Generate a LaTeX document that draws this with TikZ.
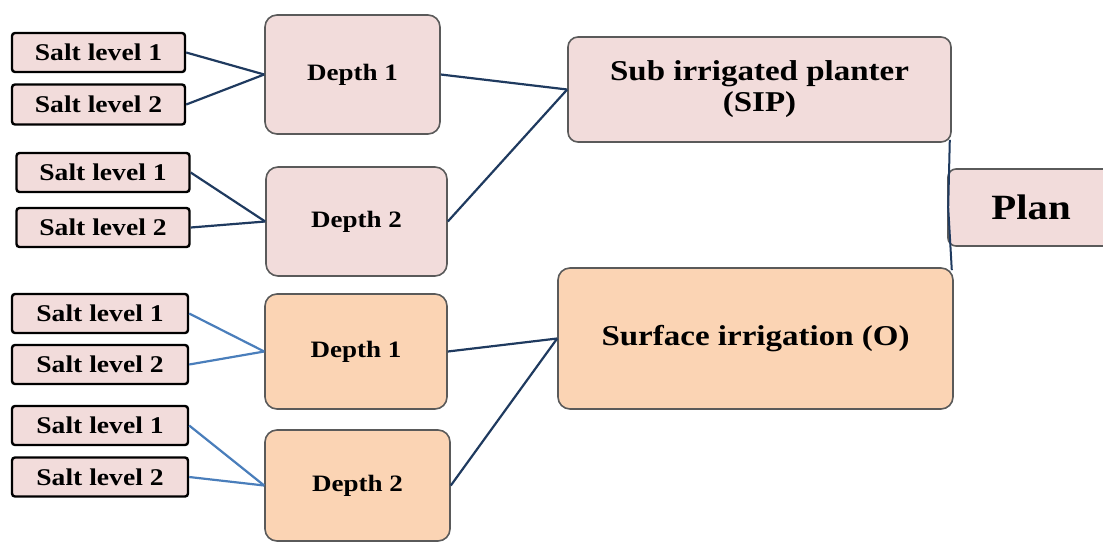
\documentclass[tikz,border=0pt]{standalone}
\usepackage{fontspec}
\setmainfont[FakeStretch=1.15]{Liberation Serif}
\definecolor{pinkfill}{HTML}{F2DCDB}
\definecolor{orangefill}{HTML}{FBD4B4}
\definecolor{darkline}{HTML}{1F3A5F}
\definecolor{lightline}{HTML}{4A7EBB}
\definecolor{boxedge}{HTML}{5A5A5A}
\begin{document}
\begin{tikzpicture}[x=1pt,y=-1pt,
  saltbox/.style={draw=black, line width=2.4pt, rounded corners=3pt, fill=pinkfill,
    inner sep=0pt, minimum width=173pt, minimum height=39pt,
    font=\fontsize{24}{26}\selectfont\bfseries},
  depthbox/.style={draw=boxedge, line width=1.6pt, rounded corners=12pt,
    inner sep=0pt, font=\fontsize{23.5}{26}\selectfont\bfseries},
  bigbox/.style={draw=boxedge, line width=1.6pt, rounded corners=10pt,
    inner sep=0pt, align=center, font=\fontsize{28.7}{32}\selectfont\bfseries},
  darkconn/.style={draw=darkline, line width=2.2pt},
  lightconn/.style={draw=lightline, line width=2.2pt}]
\useasboundingbox (0,0) rectangle (1103,542);
% salt level boxes
\node[saltbox] (s1a) at (98.5,52.5) {Salt level 1};
\node[saltbox, minimum height=40pt] (s1b) at (98.5,104.5) {Salt level 2};
\node[saltbox] (s2a) at (103,172.5) {Salt level 1};
\node[saltbox] (s2b) at (103,227.5) {Salt level 2};
\node[saltbox, minimum width=176pt] (s3a) at (100,313.5) {Salt level 1};
\node[saltbox, minimum width=176pt] (s3b) at (100,364.5) {Salt level 2};
\node[saltbox, minimum width=176pt] (s4a) at (100,425.5) {Salt level 1};
\node[saltbox, minimum width=176pt] (s4b) at (100,477) {Salt level 2};
% depth boxes
\node[depthbox, fill=pinkfill, minimum width=175pt, minimum height=119pt] (d1) at (352.5,74.5) {Depth 1};
\node[depthbox, fill=pinkfill, minimum width=181pt, minimum height=109pt] (d2) at (356.5,221.5) {Depth 2};
\node[depthbox, fill=orangefill, minimum width=182pt, minimum height=115pt] (d3) at (356,351.5) {Depth 1};
\node[depthbox, fill=orangefill, minimum width=185pt, minimum height=111pt] (d4) at (357.5,485.5) {Depth 2};
% main boxes
\node[bigbox, fill=pinkfill, minimum width=383pt, minimum height=105pt] (sip) at (759.5,89.5) {Sub irrigated planter\\[-1pt](SIP)};
\node[bigbox, fill=orangefill, minimum width=395pt, minimum height=141pt, rounded corners=12pt] (surf) at (755.5,338.5) {Surface irrigation (O)};
\node[bigbox, fill=pinkfill, minimum width=166pt, minimum height=77pt, rounded corners=8pt,
  font=\fontsize{35.5}{38}\selectfont\bfseries] (plan) at (1031,207.5) {Plan};
% connectors
\draw[darkconn] (s1a.east) -- (d1.west);
\draw[darkconn] (s1b.east) -- (d1.west);
\draw[darkconn] (s2a.east) -- (d2.west);
\draw[darkconn] (s2b.east) -- (d2.west);
\draw[lightconn] (s3a.east) -- (d3.west);
\draw[lightconn] (s3b.east) -- (d3.west);
\draw[lightconn] (s4a.east) -- (d4.west);
\draw[lightconn] (s4b.east) -- (d4.west);
\draw[darkconn] (d1.east) -- (sip.west);
\draw[darkconn] (d2.east) -- (sip.west);
\draw[darkconn] (d3.east) -- (surf.west);
\draw[darkconn] (d4.east) -- (surf.west);
\draw[darkline, line width=2pt] ([xshift=-2pt,yshift=3pt]sip.south east) -- ([xshift=1pt]plan.west) -- ([xshift=-2pt,yshift=-3pt]surf.north east);
\end{tikzpicture}
\end{document}
